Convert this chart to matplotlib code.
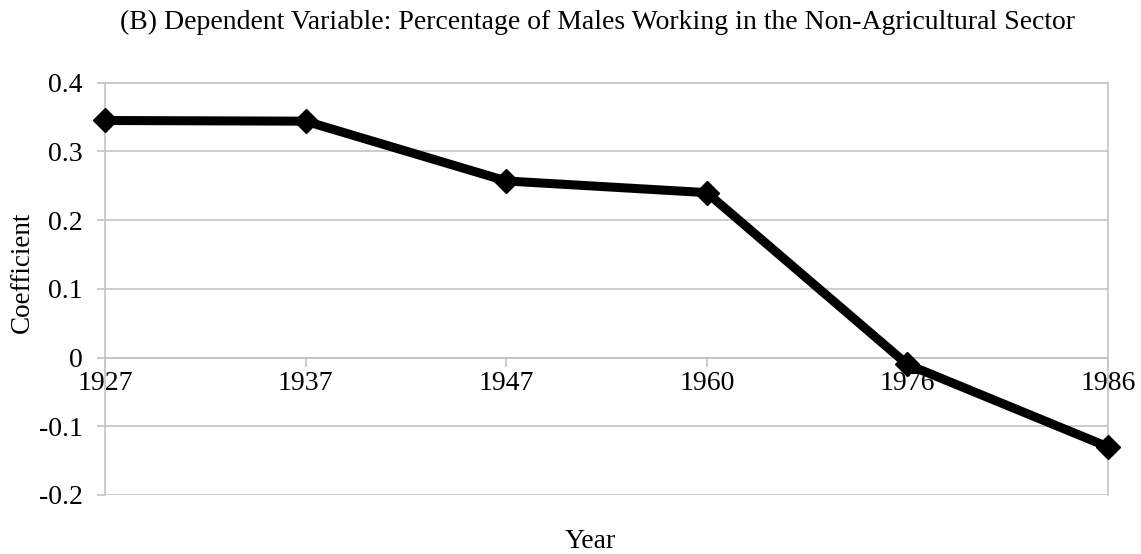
import matplotlib
matplotlib.use("Agg")
import matplotlib.pyplot as plt

years = ["1927", "1937", "1947", "1960", "1976", "1986"]
coef = [0.345, 0.344, 0.257, 0.240, -0.010, -0.130]
yticks = [-0.2, -0.1, 0.0, 0.1, 0.2, 0.3, 0.4]
ytick_labels = ["-0.2", "-0.1", "0", "0.1", "0.2", "0.3", "0.4"]
title = "(B) Dependent Variable: Percentage of Males Working in the Non-Agricultural Sector"

plt.rcParams['font.family'] = ['Liberation Serif', 'DejaVu Serif']
GRID = '#c4c4c4'
FS = 20

fig = plt.figure(figsize=(11.41, 5.54), dpi=100)
ax = fig.add_axes([105/1141, 1-495/554, (1108-105)/1141, (495-82.7)/554])

x = list(range(len(years)))
ax.plot(x, coef, color='black', lw=6.5, marker='D', markersize=12,
        clip_on=False, zorder=5, solid_joinstyle='miter')

ax.set_xlim(0, len(years)-1)
ax.set_ylim(-0.2, 0.4)
ax.set_yticks(yticks)
ax.set_yticklabels(ytick_labels)
ax.set_xticks(x)
ax.set_xticklabels(years)
ax.yaxis.grid(True, color=GRID, lw=1.2)
ax.set_axisbelow(True)

for s in ['top', 'right', 'left']:
    ax.spines[s].set_color(GRID)
    ax.spines[s].set_linewidth(1.2)
ax.spines['bottom'].set_position(('data', 0))
ax.spines['bottom'].set_color(GRID)
ax.spines['bottom'].set_linewidth(1.2)

ax.tick_params(axis='y', direction='out', length=6, width=1.2, color=GRID,
               labelsize=FS, pad=10)
ax.tick_params(axis='x', direction='out', length=6.5, width=1.2, color=GRID,
               labelsize=FS, pad=3)

fig.text(598/1141, 1-22/554, title, ha='center', va='center', fontsize=FS)
fig.text(22/1141, 1-272/554, "Coefficient", ha='center', va='center',
         rotation=90, fontsize=19.5)
fig.text(590/1141, 1-541/554, "Year", ha='center', va='center', fontsize=FS)

fig.savefig("out.png", dpi=100, facecolor='white')
